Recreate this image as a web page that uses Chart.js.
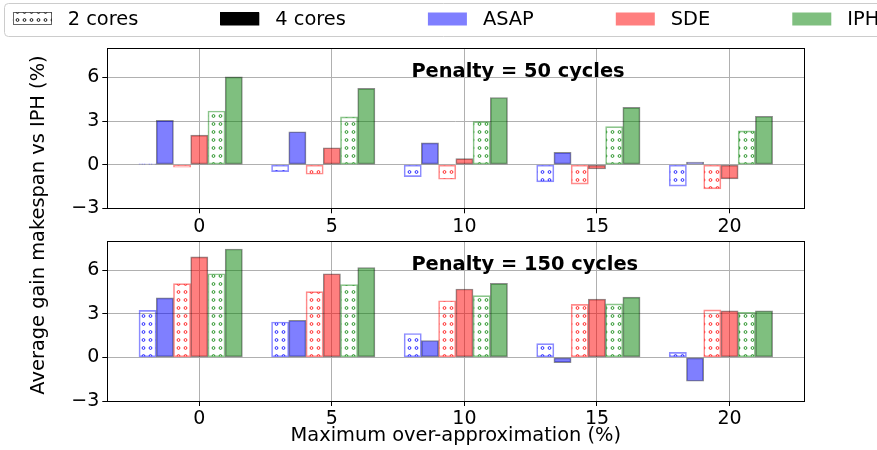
<!DOCTYPE html>
<html>
<head>
<meta charset="utf-8">
<script src="https://cdn.jsdelivr.net/npm/chart.js@4.4.0/dist/chart.umd.min.js"></script>
<style>
  html, body { margin: 0; padding: 0; background: #ffffff; }
  #wrap { position: relative; width: 877px; height: 450px; }
  #wrap canvas { position: absolute; left: 0; top: 0; }
</style>
</head>
<body>
<div id="wrap">
  <canvas id="panelTop" width="877" height="450"></canvas>
  <canvas id="panelBottom" width="877" height="450"></canvas>
</div>
<script>
// Maximum over-approximation (%) categories and axis ticks
const overApprox = [0, 5, 10, 15, 20];
const yTicks = [-3, 0, 3, 6];

// Penalty = 50 cycles: average makespan gain (%)
const asap2_p50 = [0.05, -0.48, -0.82, -1.18, -1.48];
const asap4_p50 = [3.05, 2.26, 1.50, 0.84, 0.18];
const sde2_p50  = [-0.18, -0.66, -1.00, -1.34, -1.66];
const sde4_p50  = [2.03, 1.16, 0.41, -0.30, -0.98];
const iph2_p50  = [3.69, 3.28, 2.96, 2.62, 2.32];
const iph4_p50  = [6.04, 5.24, 4.62, 3.94, 3.33];

// Penalty = 150 cycles: average makespan gain (%)
const asap2_p150 = [3.23, 2.43, 1.64, 0.95, 0.34];
const asap4_p150 = [4.09, 2.55, 1.16, -0.36, -1.64];
const sde2_p150  = [5.07, 4.52, 3.89, 3.64, 3.27];
const sde4_p150  = [6.91, 5.75, 4.70, 4.00, 3.20];
const iph2_p150  = [5.75, 5.00, 4.25, 3.68, 3.09];
const iph4_p150  = [7.45, 6.18, 5.09, 4.14, 3.20];

const panelTitles = ['Penalty = 50 cycles', 'Penalty = 150 cycles'];
const legendLabels = ['2 cores', '4 cores', 'ASAP', 'SDE', 'IPH'];
const xTitle = 'Maximum over-approximation (%)';
const yTitle = 'Average gain makespan vs IPH (%)';

// ---- styling / layout constants ----
const FONT = 'DejaVu Sans';
const BAR_W = 0.65;           // bar width in x-axis units
const X_MIN = -3.47, X_MAX = 22.82;
const Y_MIN = -3, Y_MAX = 8;
const PLOT_LEFT = 107.3, PLOT_RIGHT = 804.3;
const W = 877, H = 450;

const rgb = { blue: '0,0,255', red: '255,0,0', green: '0,128,0' };

// small-circle hatch used for the 2-core bars
function hatch(color) {
  const tile = document.createElement('canvas');
  tile.width = 7; tile.height = 8;
  const g = tile.getContext('2d');
  g.strokeStyle = color;
  g.lineWidth = 1;
  g.beginPath();
  g.arc(3.5, 4, 1.4, 0, Math.PI * 2);
  g.stroke();
  return document.createElement('canvas').getContext('2d').createPattern(tile, 'repeat');
}

function series(values, slot, kind, c) {
  const off = (slot - 3) * BAR_W;
  const hatched = kind === 2;
  return {
    data: overApprox.map((cat, k) => ({ x: cat + off, y: values[k] })),
    backgroundColor: hatched ? hatch('rgba(' + rgb[c] + ',0.8)') : 'rgba(' + rgb[c] + ',0.5)',
    borderColor: hatched ? 'rgba(' + rgb[c] + ',0.45)' : 'rgba(0,0,0,0.45)',
    borderWidth: 1,
    borderSkipped: false,
    grouped: false,
    barPercentage: 1,
    categoryPercentage: 1
  };
}

function buildDatasets(a2, a4, s2, s4, i2, i4) {
  return [
    series(a2, 0, 2, 'blue'), series(a4, 1, 4, 'blue'),
    series(s2, 2, 2, 'red'),  series(s4, 3, 4, 'red'),
    series(i2, 4, 2, 'green'), series(i4, 5, 4, 'green')
  ];
}

const fmt = v => (v < 0 ? '\u2212' + Math.abs(v) : String(v));

function scalesConfig() {
  return {
    x: {
      type: 'linear', min: X_MIN, max: X_MAX, offset: false,
      afterBuildTicks: s => { s.ticks = overApprox.map(v => ({ value: v })); },
      afterFit: s => { s.height = 40; },
      grid: { color: '#b0b0b0', lineWidth: 1, tickColor: '#000', tickLength: 5, offset: false },
      border: { display: false },
      ticks: { color: '#000', font: { family: FONT, size: 19 }, padding: 2, maxRotation: 0, callback: v => fmt(v) }
    },
    y: {
      min: Y_MIN, max: Y_MAX,
      afterBuildTicks: s => { s.ticks = yTicks.map(v => ({ value: v })); },
      afterFit: s => { s.width = 40; },
      grid: { color: '#b0b0b0', lineWidth: 1, tickColor: '#000', tickLength: 5 },
      border: { display: false },
      ticks: { color: '#000', font: { family: FONT, size: 19 }, padding: 3, callback: v => fmt(v) }
    }
  };
}

// frame around the plot area and the in-plot penalty caption
function framePlugin(title) {
  return {
    id: 'frame',
    afterDatasetsDraw(chart) {
      const { ctx, chartArea: a, scales } = chart;
      ctx.save();
      ctx.font = 'bold 19.4px "' + FONT + '"';
      ctx.fillStyle = '#000';
      ctx.textAlign = 'left';
      ctx.textBaseline = 'alphabetic';
      ctx.fillText(title, scales.x.getPixelForValue(8), scales.y.getPixelForValue(6));
      ctx.strokeStyle = '#000';
      ctx.lineWidth = 1;
      ctx.strokeRect(Math.round(a.left) + 0.5, Math.round(a.top) + 0.5,
                     Math.round(a.right) - Math.round(a.left), Math.round(a.bottom) - Math.round(a.top));
      ctx.restore();
    }
  };
}

const legendPlugin = {
  id: 'figLegend',
  afterDraw(chart) {
    const ctx = chart.ctx;
    ctx.save();
    // legend frame
    const bx = 4.5, by = 3.5, bw = 960, bh = 33, r = 4;
    ctx.beginPath();
    ctx.moveTo(bx + r, by);
    ctx.lineTo(bx + bw - r, by);
    ctx.arcTo(bx + bw, by, bx + bw, by + r, r);
    ctx.lineTo(bx + bw, by + bh - r);
    ctx.arcTo(bx + bw, by + bh, bx + bw - r, by + bh, r);
    ctx.lineTo(bx + r, by + bh);
    ctx.arcTo(bx, by + bh, bx, by + bh - r, r);
    ctx.lineTo(bx, by + r);
    ctx.arcTo(bx, by, bx + r, by, r);
    ctx.closePath();
    ctx.fillStyle = 'rgba(255,255,255,0.8)';
    ctx.fill();
    ctx.strokeStyle = '#cccccc';
    ctx.lineWidth = 1;
    ctx.stroke();

    const swatches = [
      { fill: hatch('rgba(0,0,0,0.9)'), edge: 'rgba(0,0,0,0.6)' },
      { fill: '#000000', edge: '#000000' },
      { fill: 'rgba(0,0,255,0.5)', edge: null },
      { fill: 'rgba(255,0,0,0.5)', edge: null },
      { fill: 'rgba(0,128,0,0.5)', edge: null }
    ];
    ctx.font = '19.4px "' + FONT + '"';
    ctx.textBaseline = 'middle';
    ctx.textAlign = 'left';
    let x = 12.7;
    legendLabels.forEach((label, i) => {
      const sw = swatches[i];
      ctx.fillStyle = sw.fill;
      ctx.fillRect(x, 12.5, 39, 13);
      if (sw.edge) {
        ctx.strokeStyle = sw.edge;
        ctx.strokeRect(Math.round(x) + 0.5, 12.5, 38, 12);
      }
      const tx = x + 39 + 16;
      ctx.fillStyle = '#000';
      ctx.fillText(label, tx, 19.5);
      x = tx + ctx.measureText(label).width + 82;
    });
    ctx.restore();
  }
};

const axisTitlesPlugin = {
  id: 'axisTitles',
  afterDraw(chart) {
    const { ctx, chartArea: a } = chart;
    ctx.save();
    ctx.fillStyle = '#000';
    ctx.font = '19.4px "' + FONT + '"';
    ctx.textAlign = 'center';
    ctx.textBaseline = 'alphabetic';
    ctx.fillText(xTitle, (a.left + a.right) / 2, 440.7);
    ctx.translate(44, 225);
    ctx.rotate(-Math.PI / 2);
    ctx.fillText(yTitle, 0, 0);
    ctx.restore();
  }
};

function makeChart(id, datasets, padTop, padBottom, plugins) {
  return new Chart(document.getElementById(id), {
    type: 'bar',
    data: { datasets },
    options: {
      responsive: false,
      animation: false,
      devicePixelRatio: 1,
      layout: { padding: { left: PLOT_LEFT - 40, right: W - PLOT_RIGHT, top: padTop, bottom: padBottom } },
      plugins: { legend: { display: false }, tooltip: { enabled: false } },
      scales: scalesConfig()
    },
    plugins
  });
}

makeChart('panelTop',
  buildDatasets(asap2_p50, asap4_p50, sde2_p50, sde4_p50, iph2_p50, iph4_p50),
  48.3, H - 208.3 - 40, [framePlugin(panelTitles[0]), legendPlugin]);

makeChart('panelBottom',
  buildDatasets(asap2_p150, asap4_p150, sde2_p150, sde4_p150, iph2_p150, iph4_p150),
  241, H - 401 - 40, [framePlugin(panelTitles[1]), axisTitlesPlugin]);
</script>
</body>
</html>
